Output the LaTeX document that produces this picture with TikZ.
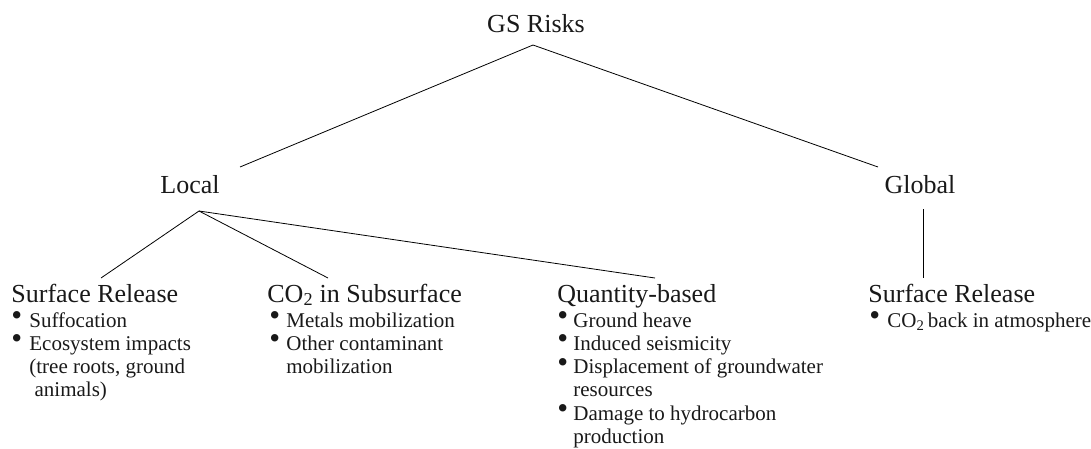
\documentclass[tikz,border=0pt]{standalone}
\usepackage{fontspec}
\setmainfont{Liberation Serif}
\usepackage{xcolor}
\usepackage{tikz}
\usetikzlibrary{positioning}

\newcommand{\bitem}{\raisebox{1.5pt}[0pt][0pt]{\makebox[8pt][l]{\fontsize{31}{31}\selectfont\textbullet}}}

\begin{document}
\begin{tikzpicture}[x=1pt,y=-1pt,
            every node/.append style = {inner sep=0pt, text=black!90},
            head/.style = {font=\fontsize{26}{30}\selectfont},
            lst/.style = {anchor=base west, font=\fontsize{21}{23.3}\selectfont},
            every path/.append style = {line width=0.8pt}]
        \useasboundingbox (0,0) rectangle (1091,448);
        \node[head, anchor=base] (gs) at (536,32) {GS Risks};
        \node[head, anchor=base] (local) at (190,193) {Local};
        \node[head, anchor=base] (global) at (920,193) {Global};
        % local branches
        \node[head, anchor=base west] (sr1) at (11,302) {Surface Release};
        \node[head, anchor=base west] (sub) at (267,302) {CO\textsubscript{2} in Subsurface};
        \node[head, anchor=base west] (qb) at (557,302) {Quantity-based};
        % global branch
        \node[head, anchor=base west] (sr2) at (868,302) {Surface Release};
        \node[lst] (l1) at (11,327) {\begin{tabular}[t]{@{}p{18pt}@{}l@{}}
            \bitem & Suffocation\\
            \bitem & Ecosystem impacts\\
                   & (tree roots, ground\\
                   & \ animals)
            \end{tabular}};
        \node[lst] (l2) at (269,327) {\begin{tabular}[t]{@{}p{17pt}@{}l@{}}
            \bitem & Metals mobilization\\
            \bitem & Other contaminant\\
                   & mobilization
            \end{tabular}};
        \node[lst] (l3) at (557,327) {\begin{tabular}[t]{@{}p{16pt}@{}l@{}}
            \bitem & Ground heave\\
            \bitem & Induced seismicity\\
            \bitem & Displacement of groundwater\\
                   & resources\\
            \bitem & Damage to hydrocarbon\\
                   & production
            \end{tabular}};
        \node[lst] (l4) at (869,327) {\begin{tabular}[t]{@{}p{18pt}@{}l@{}}
            \bitem & CO\textsubscript{2}\,back in atmosphere
            \end{tabular}};
        \draw ([shift={(50pt,26pt)}]local.base) -- ([shift={(-3pt,-13pt)}]gs.base)
            -- ([shift={(-42pt,26pt)}]global.base);
        \draw ([shift={(90pt,24pt)}]sr1.base west) -- ([shift={(9pt,-18pt)}]local.base)
            -- ([shift={(61pt,24pt)}]sub.base west);
        \draw ([shift={(9pt,-18pt)}]local.base) -- ([shift={(98pt,24pt)}]qb.base west);
        \draw ([shift={(3pt,-16pt)}]global.base) -- ([shift={(55pt,24pt)}]sr2.base west);
\end{tikzpicture}
\end{document}
